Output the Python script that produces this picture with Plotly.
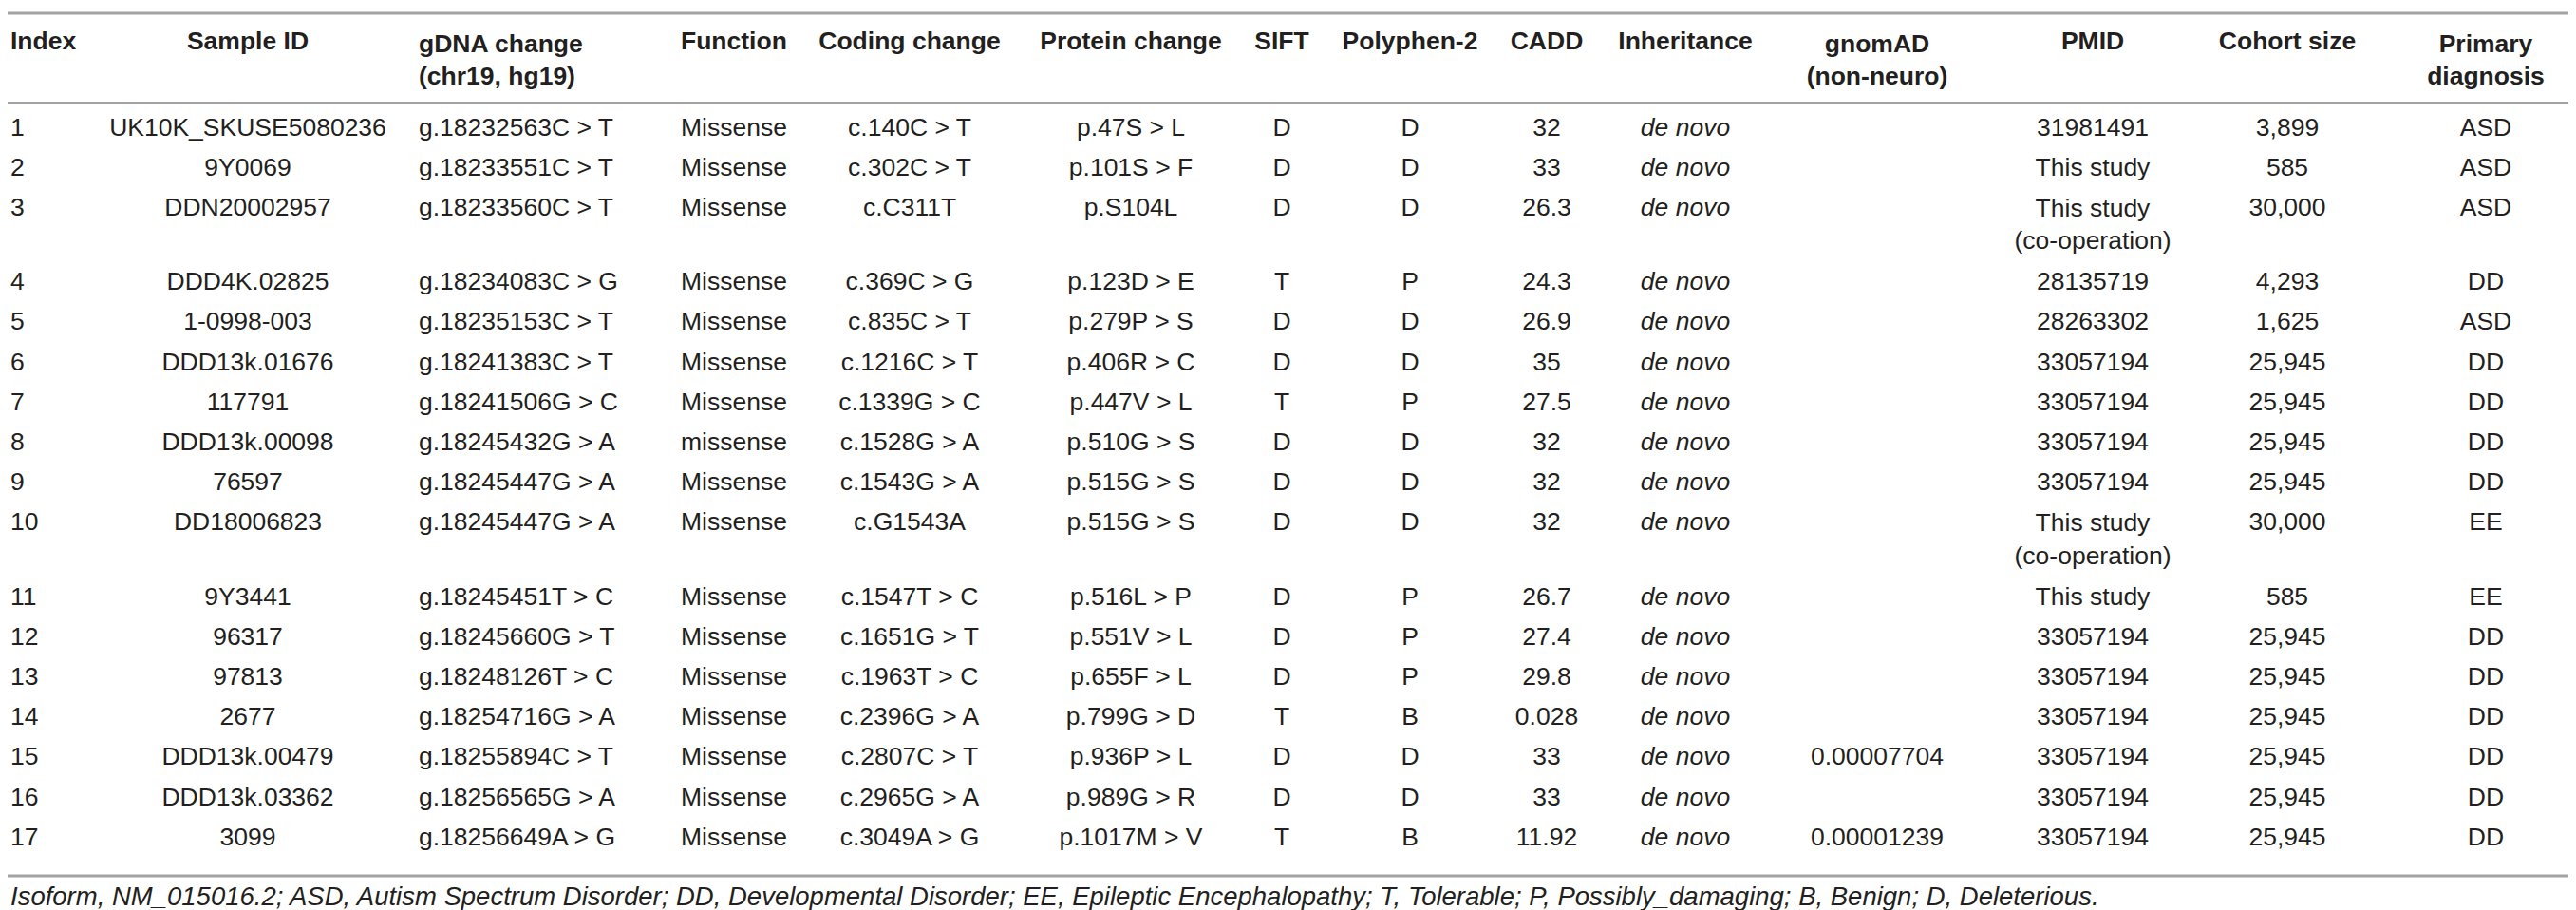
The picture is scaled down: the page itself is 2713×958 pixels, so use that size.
import plotly.graph_objects as go

# table contents
index = [str(i) for i in range(1, 18)]
sample_id = ["UK10K_SKUSE5080236", "9Y0069", "DDN20002957", "DDD4K.02825", "1-0998-003",
             "DDD13k.01676", "117791", "DDD13k.00098", "76597", "DD18006823", "9Y3441",
             "96317", "97813", "2677", "DDD13k.00479", "DDD13k.03362", "3099"]
gdna = ["g.18232563C > T", "g.18233551C > T", "g.18233560C > T", "g.18234083C > G",
        "g.18235153C > T", "g.18241383C > T", "g.18241506G > C", "g.18245432G > A",
        "g.18245447G > A", "g.18245447G > A", "g.18245451T > C", "g.18245660G > T",
        "g.18248126T > C", "g.18254716G > A", "g.18255894C > T", "g.18256565G > A",
        "g.18256649A > G"]
function = ["Missense"] * 7 + ["missense"] + ["Missense"] * 9
coding = ["c.140C > T", "c.302C > T", "c.C311T", "c.369C > G", "c.835C > T", "c.1216C > T",
          "c.1339G > C", "c.1528G > A", "c.1543G > A", "c.G1543A", "c.1547T > C",
          "c.1651G > T", "c.1963T > C", "c.2396G > A", "c.2807C > T", "c.2965G > A",
          "c.3049A > G"]
protein = ["p.47S > L", "p.101S > F", "p.S104L", "p.123D > E", "p.279P > S", "p.406R > C",
           "p.447V > L", "p.510G > S", "p.515G > S", "p.515G > S", "p.516L > P",
           "p.551V > L", "p.655F > L", "p.799G > D", "p.936P > L", "p.989G > R",
           "p.1017M > V"]
sift = ["D", "D", "D", "T", "D", "D", "T", "D", "D", "D", "D", "D", "D", "T", "D", "D", "T"]
polyphen = ["D", "D", "D", "P", "D", "D", "P", "D", "D", "D", "P", "P", "P", "B", "D", "D", "B"]
cadd = ["32", "33", "26.3", "24.3", "26.9", "35", "27.5", "32", "32", "32", "26.7", "27.4",
        "29.8", "0.028", "33", "33", "11.92"]
inheritance = ["de novo"] * 17
gnomad = [""] * 14 + ["0.00007704", "", "0.00001239"]
pmid = ["31981491", "This study", "This study<br>(co-operation)", "28135719", "28263302",
        "33057194", "33057194", "33057194", "33057194", "This study<br>(co-operation)",
        "This study", "33057194", "33057194", "33057194", "33057194", "33057194", "33057194"]
cohort = ["3,899", "585", "30,000", "4,293", "1,625", "25,945", "25,945", "25,945", "25,945",
          "30,000", "585", "25,945", "25,945", "25,945", "25,945", "25,945", "25,945"]
diagnosis = ["ASD", "ASD", "ASD", "DD", "ASD", "DD", "DD", "DD", "DD", "EE", "EE", "DD",
             "DD", "DD", "DD", "DD", "DD"]

headers = ["Index", "Sample ID", "gDNA change<br>(chr19, hg19)", "Function", "Coding change",
           "Protein change", "SIFT", "Polyphen-2", "CADD", "Inheritance",
           "gnomAD<br>(non-neuro)", "PMID", "Cohort size", "Primary<br>diagnosis"]

footnote = ("Isoform, NM_015016.2; ASD, Autism Spectrum Disorder; DD, Developmental Disorder; "
            "EE, Epileptic Encephalopathy; T, Tolerable; P, Possibly_damaging; B, Benign; "
            "D, Deleterious.")

columns = [index, sample_id, gdna, function, coding, protein, sift, polyphen, cadd,
           inheritance, gnomad, pmid, cohort, diagnosis]

# layout: column anchor (px), alignment
col_x = [3, 253, 433, 709, 950, 1183, 1342, 1477, 1621, 1767, 1969, 2196, 2401, 2610]
col_align = ["left", "center", "left", "left"] + ["center"] * 10

W, H = 2713, 958
FONT = "Liberation Sans, Arial, sans-serif"
TXT = "#231f20"
LINE = "#a3a3a3"
FS = 26.5

# row positions, taller rows where a cell wraps
row_step, extra_line = 42.2, 36
n_lines = [max(len(str(c[i]).split("<br>")) for c in columns) for i in range(len(index))]
row_y = []
y = 128
for n in n_lines:
    row_y.append(y)
    y += row_step + extra_line * (n - 1)

fig = go.Figure()

for j, col in enumerate(columns):
    pos = "middle right" if col_align[j] == "left" else "middle center"
    ys = [row_y[i] + extra_line / 2 * (len(str(v).split("<br>")) - 1) for i, v in enumerate(col)]
    fig.add_trace(go.Scatter(
        x=[col_x[j]] * len(col), y=ys, text=col, mode="text", textposition=pos,
        textfont=dict(family=FONT, size=FS, color=TXT,
                      style="italic" if j == 9 else "normal"),
        hoverinfo="skip", showlegend=False))

    h = headers[j]
    hy = 37 + 41 / 2 * (len(h.split("<br>")) - 1)
    fig.add_trace(go.Scatter(
        x=[col_x[j]], y=[hy], text=[h], mode="text", textposition=pos,
        textfont=dict(family=FONT, size=FS, color=TXT, weight="bold"),
        hoverinfo="skip", showlegend=False))

fig.add_trace(go.Scatter(
    x=[3], y=[938], text=[footnote], mode="text", textposition="middle right",
    textfont=dict(family=FONT, size=27.5, color=TXT, style="italic"),
    hoverinfo="skip", showlegend=False))

for ly, lw in [(6, 3), (100, 2), (914, 3)]:
    fig.add_shape(type="line", x0=0, x1=2706, y0=ly, y1=ly, xref="x", yref="y",
                  line=dict(color=LINE, width=lw))

fig.update_layout(
    width=W, height=H,
    margin=dict(l=0, r=0, t=0, b=0),
    paper_bgcolor="white", plot_bgcolor="white",
    xaxis=dict(range=[0, W], visible=False, fixedrange=True),
    yaxis=dict(range=[H, 0], visible=False, fixedrange=True),
)

fig.write_html("out.html")
